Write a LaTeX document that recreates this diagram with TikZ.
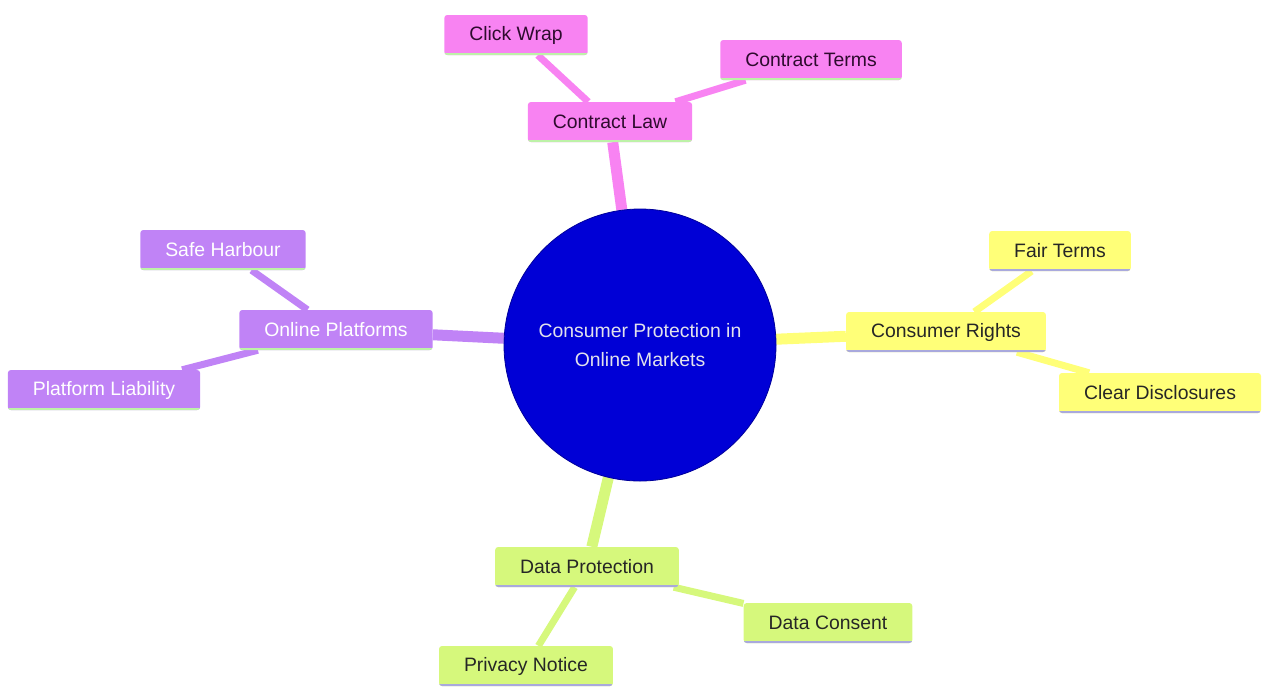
\documentclass[tikz,border=0pt]{standalone}
\usepackage{fontspec}
\setmainfont{Liberation Sans}
\usetikzlibrary{backgrounds}

\definecolor{rootblue}{HTML}{0000D6}
\definecolor{rootline}{HTML}{00009A}
\definecolor{roottext}{HTML}{E2E2EC}
\definecolor{pinkfill}{HTML}{F883F2}
\definecolor{pinktext}{HTML}{2E0B2E}
\definecolor{violetfill}{HTML}{C083F6}
\definecolor{yellowfill}{HTML}{FFFF78}
\definecolor{limefill}{HTML}{D6F87C}
\definecolor{greenline}{HTML}{BDF2A8}
\definecolor{lavenderline}{HTML}{A9A9DD}

\tikzset{
    leaf/.style={shape=rectangle, rounded corners=3pt, inner xsep=25pt, minimum height=40pt,
        font=\fontsize{19.4}{23}\selectfont},
    underline/.style={path picture={\draw[line width=5pt, #1]
        (path picture bounding box.south west) -- (path picture bounding box.south east);}},
    pinkbox/.style={leaf, fill=pinkfill, text=pinktext, underline=greenline},
    violetbox/.style={leaf, fill=violetfill, text=white, underline=greenline},
    yellowbox/.style={leaf, fill=yellowfill, text=black!85, underline=lavenderline},
    limebox/.style={leaf, fill=limefill, text=black!85, underline=lavenderline},
    branch/.style={line width=11pt},
    twig/.style={line width=7pt}
}

\begin{document}
\begin{tikzpicture}[x=1pt, y=-1pt]
        \useasboundingbox (0,0) rectangle (1263,689);

        \node[shape=circle, fill=rootblue, draw=rootline, line width=0.8pt, minimum size=272pt,
            text=roottext, align=center, font=\fontsize{19.4}{29}\selectfont]
            (root) at (640,345) {Consumer Protection in\\Online Markets};

        % contract law branch
        \node[pinkbox] (law) at (610,122) {Contract Law};
        \node[pinkbox] (click) at (516,35) {Click Wrap};
        \node[pinkbox] (terms) at (811,60) {Contract Terms};

        % consumer rights branch
        \node[yellowbox] (rights) at (946,332) {Consumer Rights};
        \node[yellowbox] (fair) at (1060,251) {Fair Terms};
        \node[yellowbox] (clear) at (1160,393) {Clear Disclosures};

        % data protection branch
        \node[limebox] (data) at (587,567) {Data Protection};
        \node[limebox] (consent) at (828,623) {Data Consent};
        \node[limebox] (privacy) at (526,666) {Privacy Notice};

        % online platforms branch
        \node[violetbox] (online) at (336,330) {Online Platforms};
        \node[violetbox] (harbour) at (223,250) {Safe Harbour};
        \node[violetbox] (liability) at (104,390) {Platform Liability};

        \begin{scope}[on background layer]
            \path [-, draw=pinkfill, branch] (root) edge (law);
            \path [-, draw=pinkfill, twig] (law) edge (click);
            \path [-, draw=pinkfill, twig] (law) edge (terms);

            \path [-, draw=yellowfill, branch] (root) edge (rights);
            \path [-, draw=yellowfill, twig] (rights) edge (fair);
            \path [-, draw=yellowfill, twig] (rights) edge (clear);

            \path [-, draw=limefill, branch] (root) edge (data);
            \path [-, draw=limefill, twig] (data) edge (consent);
            \path [-, draw=limefill, twig] (data) edge (privacy);

            \path [-, draw=violetfill, branch] (root) edge (online);
            \path [-, draw=violetfill, twig] (online) edge (harbour);
            \path [-, draw=violetfill, twig] (online) edge (liability);
        \end{scope}
    \end{tikzpicture}
\end{document}
